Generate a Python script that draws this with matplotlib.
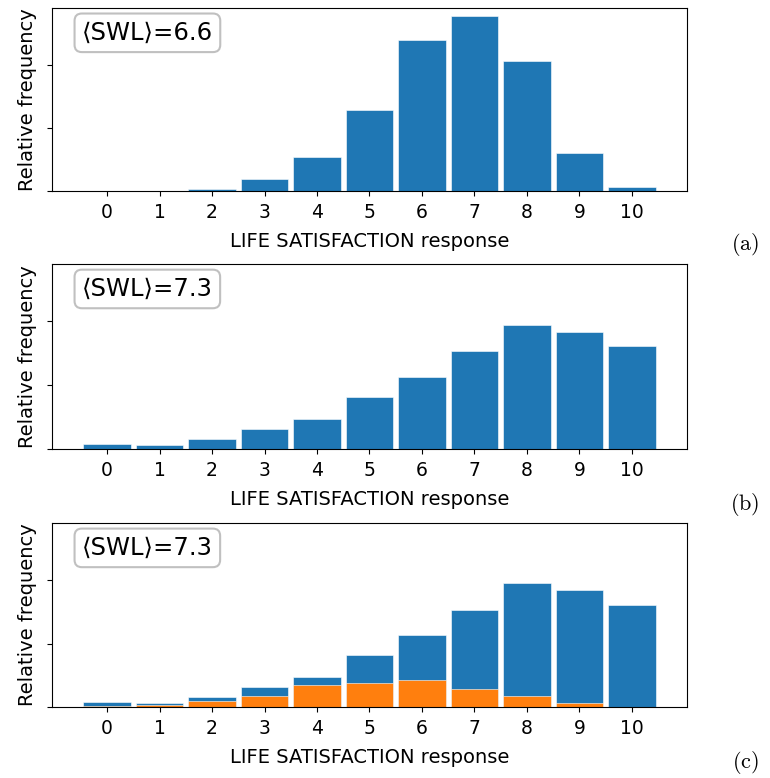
import matplotlib.pyplot as plt

responses = list(range(11))
freq_a = [0.0, 0.0, 0.003, 0.019, 0.054, 0.128, 0.239, 0.277, 0.206, 0.061, 0.006]
freq_b = [0.008, 0.007, 0.016, 0.031, 0.047, 0.082, 0.113, 0.153, 0.195, 0.184, 0.161]
freq_c = [0.008, 0.007, 0.016, 0.031, 0.047, 0.082, 0.113, 0.153, 0.195, 0.184, 0.161]
freq_c_sub = [0.001, 0.003, 0.009, 0.018, 0.034, 0.038, 0.042, 0.029, 0.018, 0.006, 0.0]
means = ["6.6", "7.3", "7.3"]
panel_labels = ["(a)", "(b)", "(c)"]

plt.rcParams['mathtext.fontset'] = 'cm'

fig = plt.figure(figsize=(7.7, 7.78), dpi=100)
tops = [8, 264, 523]
bottoms = [191, 449, 707]
label_y = [244, 504, 763]
axes = []
for t, b in zip(tops, bottoms):
    ax = fig.add_axes([52/770, 1 - b/778, (687-52)/770, (b - t)/778])
    axes.append(ax)

data = [freq_a, freq_b, freq_c]
for i, ax in enumerate(axes):
    ax.bar(responses, data[i], width=0.9, color='#1f77b4', edgecolor='white', linewidth=0.4)
    if i == 2:
        ax.bar(responses, freq_c_sub, width=0.9, color='#ff7f0e', edgecolor='white', linewidth=0.4)
    ax.set_xlim(-1.05, 11.05)
    ax.set_ylim(0, 0.29)
    ax.set_yticks([0, 0.1, 0.2])
    ax.set_yticklabels([])
    ax.set_xticks(responses)
    ax.tick_params(axis='x', labelsize=13.5, pad=5)
    ax.set_xlabel('LIFE SATISFACTION response', fontsize=14, labelpad=7)
    ax.set_ylabel('Relative frequency', fontsize=14, labelpad=4)
    ax.text(0.047, 0.93, '\u27e8SWL\u27e9=' + means[i], transform=ax.transAxes,
            fontsize=17.5, va='top', ha='left',
            bbox=dict(boxstyle='round,pad=0.3', facecolor='white', edgecolor='#c0c0c0', linewidth=1.5))
    fig.text(745/770, 1 - label_y[i] / 778, r'$\mathrm{' + panel_labels[i] + '}$',
             fontsize=16, ha='center', va='center')

fig.savefig('out.png', dpi=100)
